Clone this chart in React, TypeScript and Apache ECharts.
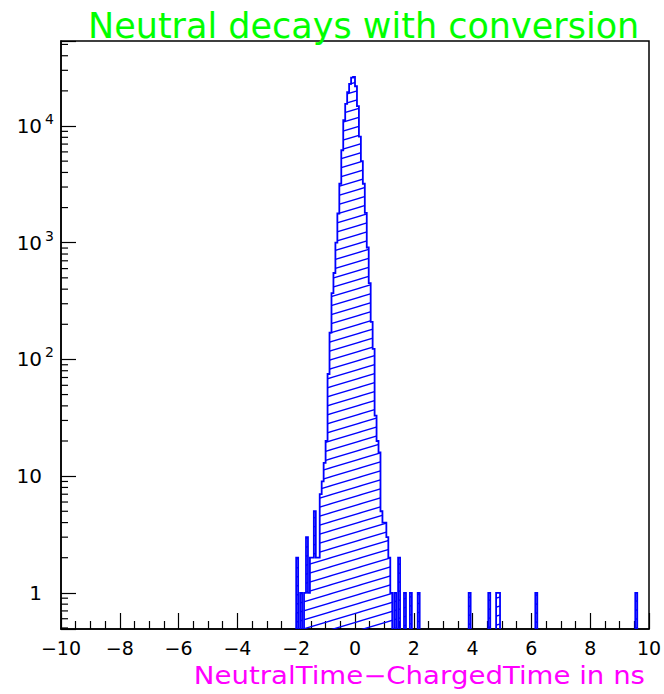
import React, { useEffect, useRef } from 'react';
import * as echarts from 'echarts';

// ---- data ----
const X_MIN = -10;
const X_MAX = 10;
const BIN_COUNT = 300; // bins of width 1/15 ns
const Y_MIN = 0.49;
const Y_MAX = 53500;

// indices of non-empty bins (bin i spans X_MIN + i/15 .. X_MIN + (i+1)/15)
const filledBins = [
  120, 122, 124, 125, 126, 127, 128, 129, 130, 131, 132, 133, 134, 135, 136, 137,
  138, 139, 140, 141, 142, 143, 144, 145, 146, 147, 148, 149, 150, 151, 152, 153,
  154, 155, 156, 157, 158, 159, 160, 161, 162, 163, 164, 165, 166, 167, 168, 170,
  172, 175, 178, 182, 208, 218, 222, 223, 242, 293,
];
const binCounts = [
  2, 1, 1, 3, 1, 2, 2, 5, 2, 2, 7, 9, 13, 20, 75, 170,
  370, 550, 1000, 1780, 3200, 6200, 11200, 15500, 19500, 23000, 26000, 26300, 21900, 14800, 8100, 5000,
  3200, 1800, 910, 450, 210, 123, 33, 20, 16, 5, 4, 4, 3, 2, 1, 1,
  2, 1, 1, 1, 1, 1, 1, 1, 1, 1,
];

const xMajorInterval = 2;
const minorMultipliers = [2, 3, 4, 5, 6, 7, 8, 9];
const decades = [0.1, 1, 10, 100, 1000, 10000];

const TITLE = 'Neutral decays with conversion';
const X_TITLE = 'NeutralTime\u2212ChargedTime in ns';

const FONT = 'DejaVu Sans';
const BLUE = '#0000ff';

const hatchSvg =
  '<svg xmlns="http://www.w3.org/2000/svg" width="30" height="9">' +
  '<path d="M-30 18 L60 -9 M-30 9 L60 -18 M-30 27 L60 0" stroke="#0000ff" stroke-width="1.3" fill="none"/></svg>';
const hatchUrl = 'data:image/svg+xml;charset=utf-8,' + encodeURIComponent(hatchSvg);

function binEdge(b: number) {
  return X_MIN + (b * (X_MAX - X_MIN)) / BIN_COUNT;
}

export default function App() {
  const ref = useRef<HTMLDivElement>(null);

  useEffect(() => {
    document.body.style.margin = '0';
    const chart = echarts.init(ref.current!, null, { renderer: 'svg' });

    const counts: number[] = new Array(BIN_COUNT).fill(0);
    filledBins.forEach((b, i) => {
      counts[b] = binCounts[i];
    });

    const minorValues: number[][] = [];
    decades.forEach((d) => {
      minorMultipliers.forEach((m) => {
        const v = d * m;
        if (v > Y_MIN && v < Y_MAX) minorValues.push([X_MIN, v]);
      });
    });

    const hatch: any = { image: hatchUrl, repeat: 'repeat', imageWidth: 30, imageHeight: 9 };

    const option: any = {
      animation: false,
      backgroundColor: '#ffffff',
      grid: {
        left: 61,
        right: 15,
        top: 41,
        bottom: 65,
        show: true,
        borderColor: '#000',
        borderWidth: 1.5,
        containLabel: false,
        outerBoundsMode: 'none',
      },
      xAxis: {
        type: 'value',
        min: X_MIN,
        max: X_MAX,
        interval: xMajorInterval,
        axisLine: { show: true, onZero: false, lineStyle: { color: '#000', width: 1.5 } },
        axisTick: { show: true, inside: true, length: 16, lineStyle: { color: '#000', width: 1.2 } },
        minorTick: { show: true, splitNumber: 4, length: 8, lineStyle: { color: '#000', width: 1.2 } },
        axisLabel: {
          margin: 9,
          fontSize: 19,
          fontFamily: FONT,
          color: '#000',
          formatter: (v: number) => (v < 0 ? '\u2212' + Math.abs(v) : String(v)),
        },
        splitLine: { show: false },
        minorSplitLine: { show: false },
      },
      yAxis: {
        type: 'log',
        logBase: 10,
        min: Y_MIN,
        max: Y_MAX,
        axisLine: { show: true, onZero: false, lineStyle: { color: '#000', width: 1.5 } },
        axisTick: { show: true, inside: true, length: 15, lineStyle: { color: '#000', width: 1.2 } },
        axisLabel: {
          margin: 7,
          color: '#000',
          fontFamily: FONT,
          fontSize: 20,
          formatter: (v: number) => {
            const l = Math.log10(v);
            const e = Math.round(l);
            if (Math.abs(l - e) > 1e-6) return '';
            if (e === 0) return '{b|1}';
            if (e === 1) return '{b|10}';
            return '{n|10}{s|' + e + '}';
          },
          rich: {
            b: { fontSize: 20, fontFamily: FONT, color: '#000', padding: [0, 12, 0, 0] },
            n: { fontSize: 20, fontFamily: FONT, color: '#000', lineHeight: 28 },
            s: {
              fontSize: 14,
              fontFamily: FONT,
              color: '#000',
              lineHeight: 14,
              verticalAlign: 'top',
              padding: [0, 0, 0, 3],
            },
          },
        },
        splitLine: { show: false },
      },
      graphic: [
        {
          type: 'text',
          x: 88,
          y: 26,
          style: {
            text: TITLE,
            fill: '#00ff00',
            fontSize: 35,
            fontFamily: FONT,
            align: 'left',
            verticalAlign: 'middle',
          },
        },
        {
          type: 'text',
          x: 645,
          y: 676,
          scaleX: 1.15,
          style: {
            text: X_TITLE,
            fill: '#ff00ff',
            fontSize: 24,
            fontFamily: FONT,
            align: 'right',
            verticalAlign: 'middle',
          },
        },
      ],
      series: [
        {
          type: 'custom',
          name: 'hist',
          data: [[0, 1]],
          z: 3,
          renderItem: (params: any, api: any) => {
            const children: any[] = [];
            let i = 0;
            while (i < BIN_COUNT) {
              if (counts[i] <= 0) {
                i++;
                continue;
              }
              let j = i;
              while (j < BIN_COUNT && counts[j] > 0) j++;
              const start = api.coord([binEdge(i), Y_MIN]);
              const end = api.coord([binEdge(j), Y_MIN]);
              const pts: number[][] = [[start[0], start[1]]];
              for (let b = i; b < j; b++) {
                const p0 = api.coord([binEdge(b), counts[b]]);
                const p1 = api.coord([binEdge(b + 1), counts[b]]);
                pts.push([p0[0], p0[1]], [p1[0], p1[1]]);
              }
              pts.push([end[0], end[1]]);
              children.push({
                type: 'polygon',
                shape: { points: pts },
                style: { fill: hatch, stroke: null },
              });
              children.push({
                type: 'polyline',
                shape: { points: pts },
                style: { fill: null, stroke: BLUE, lineWidth: 1.8 },
              });
              i = j;
            }
            return { type: 'group', children };
          },
        },
        {
          type: 'custom',
          name: 'minorTicks',
          data: minorValues,
          z: 4,
          renderItem: (params: any, api: any) => {
            const p = api.coord([api.value(0), api.value(1)]);
            return {
              type: 'line',
              shape: { x1: p[0], y1: p[1], x2: p[0] + 7, y2: p[1] },
              style: { stroke: '#000', lineWidth: 1.2 },
            };
          },
        },
      ],
    };

    chart.setOption(option);
    return () => chart.dispose();
  }, []);

  return <div ref={ref} style={{ width: 664, height: 694 }} />;
}
